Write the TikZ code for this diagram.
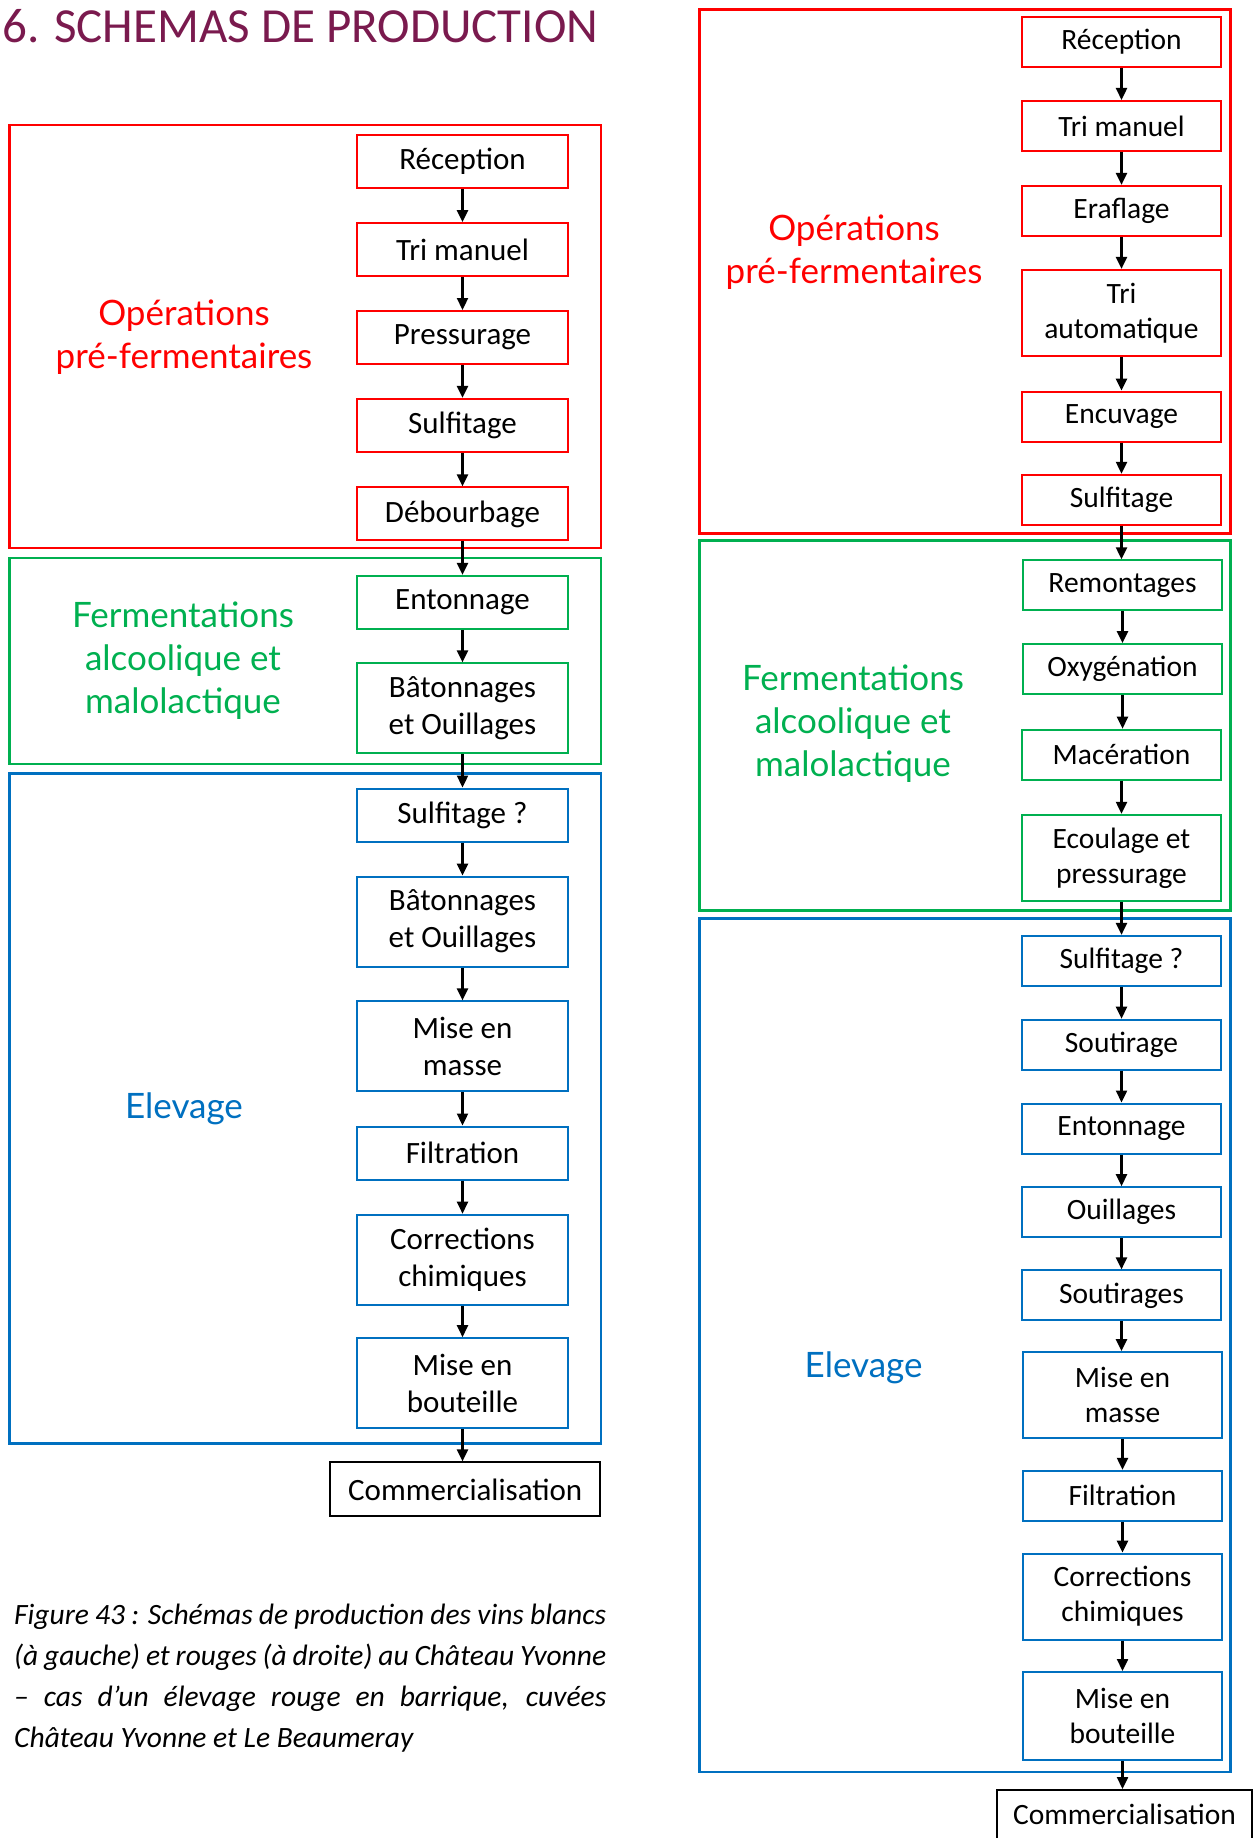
\documentclass[tikz,border=0pt]{standalone}
\usepackage{fontspec}
\setmainfont{Carlito}
\newfontfamily\labelfont{Lato}
\usetikzlibrary{arrows.meta}
\definecolor{wred}{HTML}{FF0000}
\definecolor{wgreen}{HTML}{00B050}
\definecolor{wblue}{HTML}{0070C0}
\definecolor{maroon}{HTML}{7A1A4E}
\begin{document}
\begin{tikzpicture}[x=1pt,y=-1pt,
  grp/.style={line width=2.6pt},
  lbox/.style={draw, line width=2pt, minimum width=211pt, minimum height=53pt, inner sep=0pt, align=center, font=\fontsize{31}{37}\selectfont},
  rbox/.style={draw, line width=2pt, minimum width=199pt, minimum height=50pt, inner sep=0pt, align=center, font=\fontsize{29.5}{35}\selectfont},
  tall/.style={minimum height=90pt},
  rtall/.style={minimum height=86pt},
  grplabel/.style={align=center, font=\labelfont\fontsize{35}{43}\selectfont},
  arr/.style={line width=2.3pt, -{Triangle[length=12pt,width=11pt]}},
  capline/.style={anchor=base west, inner sep=0pt, font=\itshape\fontsize{29.5}{41}\selectfont}
]
\useasboundingbox (0,0) rectangle (1255,1838);
\clip (0,0) rectangle (1255,1838);
% title
\node[anchor=base west, inner sep=0pt, text=maroon, font=\fontsize{49}{55}\selectfont] (title) at (2,43) {6. SCHEMAS DE PRODUCTION};

% ===== LEFT =====
\draw[grp, wred] (9.4,125) rectangle (601,548);
\draw[grp, wgreen] (9.4,557.8) rectangle (601,764);
\draw[grp, wblue] (9.4,773.4) rectangle (601,1443.7);

\node[grplabel, text=wred] (lopl) at (184,337) {Opérations\\pré-fermentaires};
\node[grplabel, text=wgreen] (lfer) at (183,661) {Fermentations\\alcoolique et\\malolactique};
\node[grplabel, text=wblue] (lele) at (184,1108.5) {Elevage};

\node[lbox, wred, text=black] (L1) at (462.5,161.3) {Réception};
\node[lbox, wred, text=black] (L2) at (462.5,249.6) {Tri manuel};
\node[lbox, wred, text=black] (L3) at (462.5,337.5) {Pressurage};
\node[lbox, wred, text=black] (L4) at (462.5,425.4) {Sulfitage};
\node[lbox, wred, text=black] (L5) at (462.5,513.9) {Débourbage};
\node[lbox, wgreen, text=black] (L6) at (462.5,602.4) {Entonnage};
\node[lbox, tall, wgreen, text=black] (L7) at (462.5,708.4) {Bâtonnages\\et Ouillages};
\node[lbox, wblue, text=black] (L8) at (462.5,815) {Sulfitage ?};
\node[lbox, tall, wblue, text=black] (L9) at (462.5,921.6) {Bâtonnages\\et Ouillages};
\node[lbox, tall, wblue, text=black] (L10) at (462.5,1046.4) {Mise en\\masse};
\node[lbox, wblue, text=black] (L11) at (462.5,1153) {Filtration};
\node[lbox, tall, wblue, text=black] (L12) at (462.5,1259.7) {Corrections\\chimiques};
\node[lbox, tall, wblue, text=black] (L13) at (462.5,1383.2) {Mise en\\bouteille};
\node[lbox, black, minimum width=270pt, minimum height=54pt] (LC) at (465.2,1489.4) {Commercialisation};

\foreach \a/\b in {L1/L2,L2/L3,L3/L4,L4/L5,L5/L6,L6/L7,L7/L8,L8/L9,L9/L10,L10/L11,L11/L12,L12/L13,L13/LC}
  \draw[arr] (\a.south) -- (\a.south |- \b.north);

% caption
\node[capline] (cap1) at (14,1624) {\makebox[592pt][s]{Figure 43 : Schémas de production des vins blancs}};
\node[capline] (cap2) at (14,1665) {\makebox[592pt][s]{(à gauche) et rouges (à droite) au Château Yvonne}};
\node[capline] (cap3) at (14,1706) {\makebox[592pt][s]{– cas d’un élevage rouge en barrique, cuvées}};
\node[capline] (cap4) at (14,1747) {Château Yvonne et Le Beaumeray};

% ===== RIGHT =====
\draw[grp, wred] (699.6,9.4) rectangle (1230.4,533.2);
\draw[grp, wgreen] (699.6,540.2) rectangle (1230.4,910.5);
\draw[grp, wblue] (699.6,918.7) rectangle (1230.4,1771.8);

\node[grplabel, text=wred] (ropl) at (854,252) {Opérations\\pré-fermentaires};
\node[grplabel, text=wgreen] (rfer) at (853,724) {Fermentations\\alcoolique et\\malolactique};
\node[grplabel, text=wblue] (rele) at (863.6,1367.5) {Elevage};

\node[rbox, wred, text=black] (R1) at (1121.5,41.6) {Réception};
\node[rbox, wred, text=black] (R2) at (1121.5,126) {Tri manuel};
\node[rbox, wred, text=black] (R3) at (1121.5,210.9) {Eraflage};
\node[rbox, rtall, wred, text=black] (R4) at (1121.5,312.9) {Tri\\automatique};
\node[rbox, wred, text=black] (R5) at (1121.5,416.6) {Encuvage};
\node[rbox, wred, text=black] (R6) at (1121.5,499.8) {Sulfitage};
\node[rbox, wgreen, text=black] (R7) at (1122.5,585.3) {Remontages};
\node[rbox, wgreen, text=black] (R8) at (1122.5,669.1) {Oxygénation};
\node[rbox, wgreen, text=black] (R9) at (1121.5,754.7) {Macération};
\node[rbox, rtall, wgreen, text=black] (R10) at (1121.5,857.8) {Ecoulage et\\pressurage};
\node[rbox, wblue, text=black] (R11) at (1121.5,960.9) {Sulfitage ?};
\node[rbox, wblue, text=black] (R12) at (1121.5,1044.7) {Soutirage};
\node[rbox, wblue, text=black] (R13) at (1121.5,1128.5) {Entonnage};
\node[rbox, wblue, text=black] (R14) at (1121.5,1212.2) {Ouillages};
\node[rbox, wblue, text=black] (R15) at (1121.5,1295.4) {Soutirages};
\node[rbox, rtall, wblue, text=black] (R16) at (1122.5,1395.1) {Mise en\\masse};
\node[rbox, wblue, text=black] (R17) at (1122.5,1495.8) {Filtration};
\node[rbox, rtall, wblue, text=black] (R18) at (1122.5,1596.6) {Corrections\\chimiques};
\node[rbox, rtall, minimum height=88pt, wblue, text=black] (R19) at (1122.5,1716) {Mise en\\bouteille};
\node[rbox, black, minimum width=255pt, minimum height=70pt, text depth=22pt] (RC) at (1124.5,1825) {Commercialisation};

\foreach \a/\b in {R1/R2,R2/R3,R3/R4,R4/R5,R5/R6,R6/R7,R7/R8,R8/R9,R9/R10,R10/R11,R11/R12,R12/R13,R13/R14,R14/R15,R15/R16,R16/R17,R17/R18,R18/R19,R19/RC}
  \draw[arr] (\a.south) -- (\a.south |- \b.north);
\end{tikzpicture}
\end{document}
